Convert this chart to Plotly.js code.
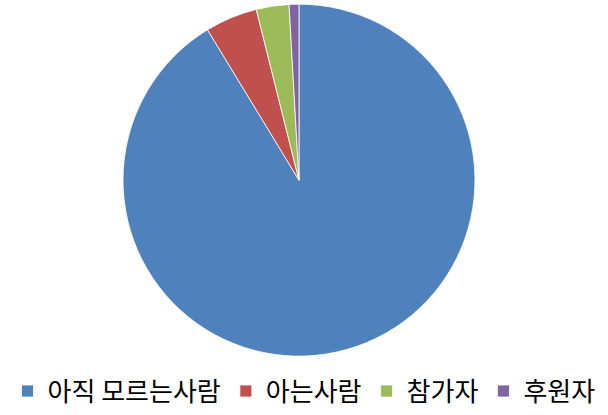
<!DOCTYPE html>
<html>
<head>
<meta charset="utf-8">
<script src="https://cdn.plot.ly/plotly-3.0.1.min.js"></script>
<style>
  html, body { margin: 0; padding: 0; background: #fff; }
  #chart { width: 608px; height: 415px; }
</style>
</head>
<body>
<div id="chart"></div>
<script>
// Slice labels and shares (percent)
let labels = ["아직 모르는사람", "아는사람", "참가자", "후원자"]
let shares = [91.3, 4.8, 3.0, 0.9]
let colors = ["#4F81BD", "#C0504D", "#9BBB59", "#8064A2"]

let trace = {
  type: "pie",
  labels: labels,
  values: shares,
  sort: false,
  direction: "clockwise",
  rotation: 0,
  textinfo: "none",
  hoverinfo: "label+percent",
  marker: { colors: colors, line: { color: "#ffffff", width: 0.8 } },
  domain: { x: [0.2023, 0.7812], y: [0.1373, 0.9904] },
};

let layout = {
  width: 608,
  height: 415,
  margin: { l: 0, r: 0, t: 0, b: 0 },
  paper_bgcolor: "#ffffff",
  font: { family: "'Noto Sans CJK KR', 'Noto Sans', sans-serif", color: "#000000" },
  showlegend: true,
  legend: {
    orientation: "h",
    x: 0.5,
    xanchor: "center",
    y: 0.053,
    yanchor: "middle",
    font: { size: 26, color: "#000000" },
    traceorder: "normal",
  },
};

Plotly.newPlot("chart", [trace], layout, { displayModeBar: false, staticPlot: true });
</script>
</body>
</html>
